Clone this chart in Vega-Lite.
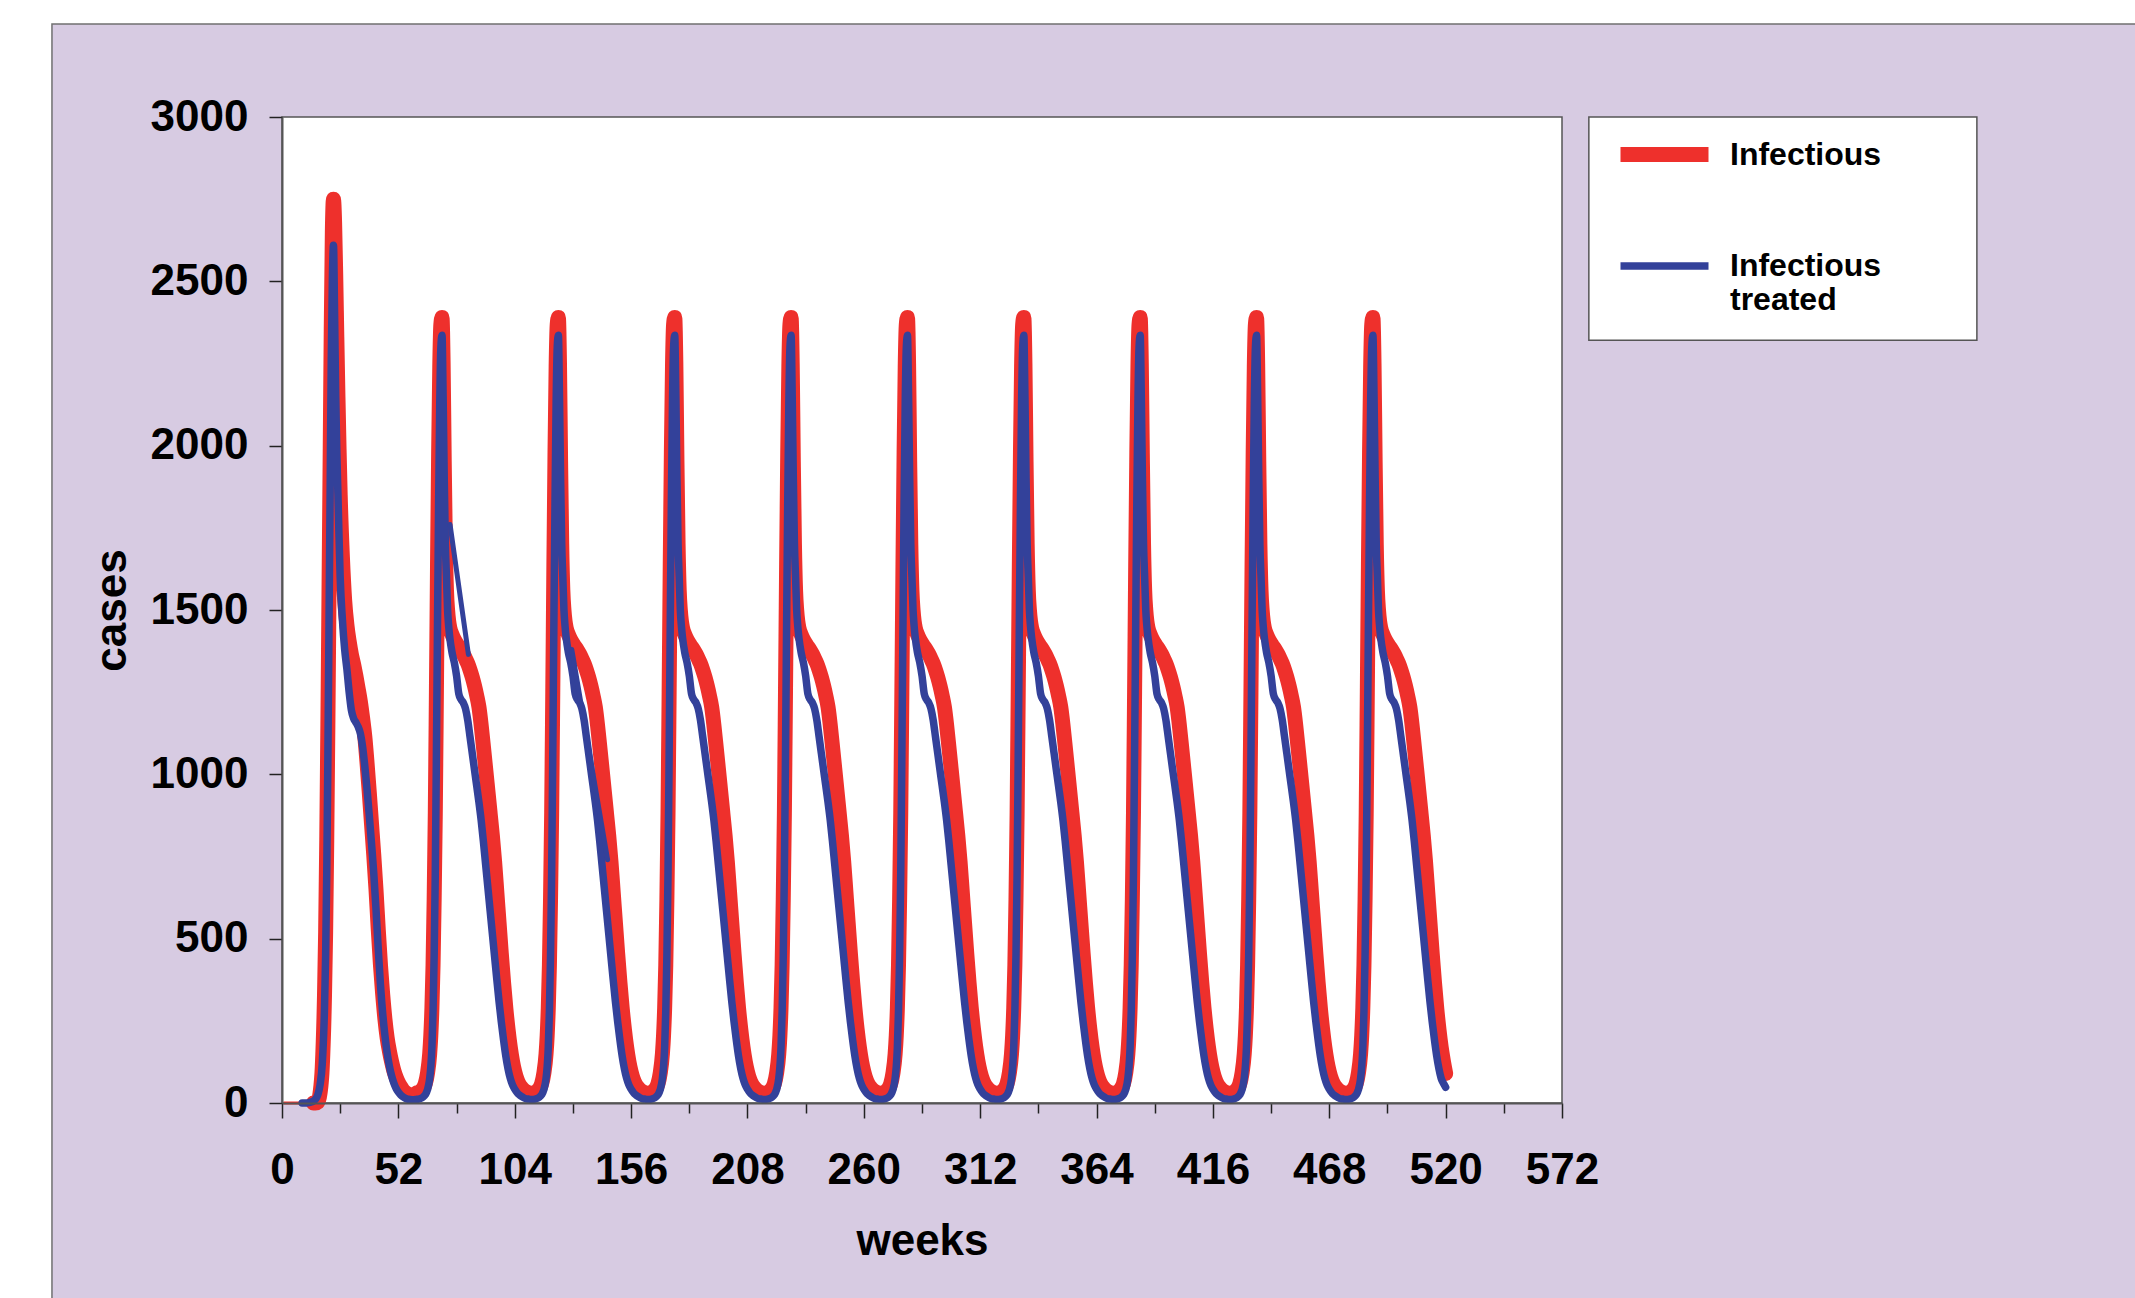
{
"$schema": "https://vega.github.io/schema/vega-lite/v6.json",
"width": 1280, "height": 986,
"autosize": {"type": "none"},
"padding": {"left": 282, "top": 117, "right": 573, "bottom": 195},
"background": "white",
"config": {
  "view": {"stroke": null, "fill": null},
  "font": "Liberation Sans",
  "axis": {"labelFont": "Liberation Sans", "labelFontSize": 44, "labelFontWeight": "bold", "labelColor": "black",
    "titleFont": "Liberation Sans", "titleFontSize": 44, "titleFontWeight": "bold", "titleColor": "black",
    "domainColor": "#555555", "domainWidth": 2, "tickColor": "#222222", "tickWidth": 1.5, "grid": false,
    "labelFlush": false, "labelOverlap": false},
  "legend": {"labelFont": "Liberation Sans", "labelFontSize": 32, "labelFontWeight": "bold", "labelColor": "black", "labelLimit": 600}
},
"resolve": {"axis": {"x": "independent", "y": "independent"}},
"layer": [
  {
    "data": {"values": [{}]},
    "mark": {"type": "rect", "fill": "#D7CBE2", "stroke": "#707070", "strokeWidth": 1.5},
    "encoding": {
      "x": {"datum": -102.8, "type": "quantitative", "scale": {"domain": [0, 572], "nice": false}, "axis": null},
      "x2": {"datum": 900},
      "y": {"datum": 3282.6, "type": "quantitative", "scale": {"domain": [0, 3000], "nice": false}, "axis": null},
      "y2": {"datum": -1000}
    }
  },
  {
    "data": {"values": [{}]},
    "mark": {"type": "rect", "fill": "white", "stroke": "#555555", "strokeWidth": 1.5},
    "encoding": {
      "x": {"datum": 584, "type": "quantitative", "scale": {"domain": [0, 572], "nice": false}, "axis": null},
      "x2": {"datum": 757.4},
      "y": {"datum": 3000, "type": "quantitative", "scale": {"domain": [0, 3000], "nice": false}, "axis": null},
      "y2": {"datum": 2321}
    }
  },
  {
    "data": {"values": [{}]},
    "mark": {"type": "rect", "fill": "white", "stroke": "#555555", "strokeWidth": 1.5},
    "encoding": {
      "x": {"datum": 0, "type": "quantitative", "scale": {"domain": [0, 572], "nice": false}, "axis": null},
      "x2": {"datum": 572},
      "y": {"datum": 0, "type": "quantitative", "scale": {"domain": [0, 3000], "nice": false}, "axis": null},
      "y2": {"datum": 3000}
    }
  },
  {
    "data": {"values": [{"week": 0.7, "cases": 0}, {"week": 8.9, "cases": 0}]},
    "mark": {"type": "line", "color": "#EE302C", "strokeWidth": 3, "clip": false},
    "encoding": {
      "x": {"field": "week", "type": "quantitative", "scale": {"domain": [0, 572], "nice": false}, "axis": null},
      "y": {"field": "cases", "type": "quantitative", "scale": {"domain": [0, 3000], "nice": false}, "axis": null}
    }
  },
  {
    "data": {"values": [
{"week":14,"infectious":0,"treated":6},{"week":15,"infectious":0,"treated":12},{"week":16,"infectious":3,"treated":25},{"week":17,"infectious":30,"treated":55},{"week":18,"infectious":110,"treated":120},
{"week":19,"infectious":330,"treated":290},{"week":19.5,"infectious":520,"treated":450},{"week":20,"infectious":800,"treated":700},{"week":20.5,"infectious":1150,"treated":1050},{"week":21,"infectious":1550,"treated":1450},
{"week":21.5,"infectious":1950,"treated":1850},{"week":22,"infectious":2350,"treated":2250},{"week":22.5,"infectious":2650,"treated":2500},{"week":23,"infectious":2750,"treated":2610},{"week":23.5,"infectious":2680,"treated":2400},
{"week":24,"infectious":2520,"treated":2150},{"week":24.5,"infectious":2330,"treated":1980},{"week":25,"infectious":2150,"treated":1850},{"week":25.5,"infectious":1990,"treated":1720},{"week":26,"infectious":1850,"treated":1600},
{"week":27,"infectious":1660,"treated":1470},{"week":28,"infectious":1530,"treated":1380},{"week":29,"infectious":1455,"treated":1320},{"week":30,"infectious":1405,"treated":1250},{"week":31,"infectious":1365,"treated":1195},
{"week":32,"infectious":1335,"treated":1170},{"week":33,"infectious":1300,"treated":1158},{"week":34,"infectious":1262,"treated":1145},{"week":35,"infectious":1222,"treated":1125},{"week":36,"infectious":1172,"treated":1085},
{"week":37,"infectious":1115,"treated":1025},{"week":38,"infectious":1035,"treated":955},{"week":39,"infectious":945,"treated":875},{"week":40,"infectious":850,"treated":790},{"week":41,"infectious":755,"treated":700},
{"week":42,"infectious":650,"treated":590},{"week":43,"infectious":530,"treated":470},{"week":44,"infectious":420,"treated":360},{"week":45,"infectious":330,"treated":272},{"week":46,"infectious":255,"treated":205},
{"week":47,"infectious":198,"treated":152},{"week":48,"infectious":158,"treated":112},{"week":49,"infectious":125,"treated":82},{"week":50,"infectious":98,"treated":60},{"week":51,"infectious":78,"treated":44},
{"week":52,"infectious":62,"treated":33},{"week":53,"infectious":50,"treated":25},{"week":54,"infectious":40,"treated":19},{"week":55,"infectious":33,"treated":15},{"week":56,"infectious":28,"treated":12},
{"week":57,"infectious":25,"treated":11},{"week":58,"infectious":23,"treated":10},{"week":59,"infectious":22,"treated":10},

{"week":60,"infectious":30,"treated":11},{"week":61,"infectious":32,"treated":12},{"week":62,"infectious":36,"treated":14},{"week":63,"infectious":44,"treated":18},{"week":64,"infectious":58,"treated":25},{"week":65,"infectious":90,"treated":40},{"week":66,"infectious":150,"treated":75},
{"week":66.5,"infectious":205,"treated":110},{"week":67,"infectious":290,"treated":170},{"week":67.5,"infectious":420,"treated":280},{"week":68,"infectious":620,"treated":450},{"week":68.5,"infectious":880,"treated":700},{"week":69,"infectious":1250,"treated":1060},{"week":69.5,"infectious":1640,"treated":1460},{"week":70,"infectious":1980,"treated":1830},{"week":70.5,"infectious":2240,"treated":2130},
{"week":71,"infectious":2370,"treated":2300},{"week":71.5,"infectious":2390,"treated":2336},{"week":72,"infectious":2250,"treated":2150},{"week":72.5,"infectious":1950,"treated":1900},{"week":73,"infectious":1700,"treated":1700},{"week":73.5,"infectious":1560,"treated":1600},{"week":74,"infectious":1500,"treated":1500},{"week":74.5,"infectious":1465,"treated":1450},{"week":75,"infectious":1445,"treated":1415},
{"week":76,"infectious":1425,"treated":1370},{"week":77,"infectious":1410,"treated":1340},{"week":78,"infectious":1398,"treated":1300},{"week":79,"infectious":1388,"treated":1245},{"week":80,"infectious":1378,"treated":1228},{"week":81,"infectious":1366,"treated":1218},{"week":82,"infectious":1352,"treated":1200},{"week":83,"infectious":1337,"treated":1165},{"week":84,"infectious":1318,"treated":1115},
{"week":85,"infectious":1296,"treated":1065},{"week":86,"infectious":1270,"treated":1015},{"week":87,"infectious":1240,"treated":965},{"week":88,"infectious":1205,"treated":915},{"week":89,"infectious":1150,"treated":860},{"week":90,"infectious":1085,"treated":795},{"week":91,"infectious":1018,"treated":725},{"week":92,"infectious":950,"treated":655},{"week":93,"infectious":882,"treated":585},
{"week":94,"infectious":814,"treated":515},{"week":95,"infectious":735,"treated":445},{"week":96,"infectious":642,"treated":375},{"week":97,"infectious":548,"treated":308},{"week":98,"infectious":455,"treated":247},{"week":99,"infectious":368,"treated":192},{"week":100,"infectious":290,"treated":143},{"week":101,"infectious":225,"treated":104},{"week":102,"infectious":170,"treated":75},
{"week":103,"infectious":127,"treated":55},{"week":104,"infectious":95,"treated":42},{"week":105,"infectious":72,"treated":32},{"week":106,"infectious":57,"treated":25},{"week":107,"infectious":47,"treated":20},{"week":108,"infectious":40,"treated":16},{"week":109,"infectious":35,"treated":13},{"week":110,"infectious":32,"treated":12},{"week":111,"infectious":30,"treated":11},

{"week":112,"infectious":30,"treated":11},{"week":113,"infectious":32,"treated":12},{"week":114,"infectious":36,"treated":14},{"week":115,"infectious":44,"treated":18},{"week":116,"infectious":58,"treated":25},{"week":117,"infectious":90,"treated":40},{"week":118,"infectious":150,"treated":75},
{"week":118.5,"infectious":205,"treated":110},{"week":119,"infectious":290,"treated":170},{"week":119.5,"infectious":420,"treated":280},{"week":120,"infectious":620,"treated":450},{"week":120.5,"infectious":880,"treated":700},{"week":121,"infectious":1250,"treated":1060},{"week":121.5,"infectious":1640,"treated":1460},{"week":122,"infectious":1980,"treated":1830},{"week":122.5,"infectious":2240,"treated":2130},
{"week":123,"infectious":2370,"treated":2300},{"week":123.5,"infectious":2390,"treated":2336},{"week":124,"infectious":2250,"treated":2150},{"week":124.5,"infectious":1950,"treated":1900},{"week":125,"infectious":1700,"treated":1700},{"week":125.5,"infectious":1560,"treated":1600},{"week":126,"infectious":1500,"treated":1500},{"week":126.5,"infectious":1465,"treated":1450},{"week":127,"infectious":1445,"treated":1415},
{"week":128,"infectious":1425,"treated":1370},{"week":129,"infectious":1410,"treated":1340},{"week":130,"infectious":1398,"treated":1300},{"week":131,"infectious":1388,"treated":1245},{"week":132,"infectious":1378,"treated":1228},{"week":133,"infectious":1366,"treated":1218},{"week":134,"infectious":1352,"treated":1200},{"week":135,"infectious":1337,"treated":1165},{"week":136,"infectious":1318,"treated":1115},
{"week":137,"infectious":1296,"treated":1065},{"week":138,"infectious":1270,"treated":1015},{"week":139,"infectious":1240,"treated":965},{"week":140,"infectious":1205,"treated":915},{"week":141,"infectious":1150,"treated":860},{"week":142,"infectious":1085,"treated":795},{"week":143,"infectious":1018,"treated":725},{"week":144,"infectious":950,"treated":655},{"week":145,"infectious":882,"treated":585},
{"week":146,"infectious":814,"treated":515},{"week":147,"infectious":735,"treated":445},{"week":148,"infectious":642,"treated":375},{"week":149,"infectious":548,"treated":308},{"week":150,"infectious":455,"treated":247},{"week":151,"infectious":368,"treated":192},{"week":152,"infectious":290,"treated":143},{"week":153,"infectious":225,"treated":104},{"week":154,"infectious":170,"treated":75},
{"week":155,"infectious":127,"treated":55},{"week":156,"infectious":95,"treated":42},{"week":157,"infectious":72,"treated":32},{"week":158,"infectious":57,"treated":25},{"week":159,"infectious":47,"treated":20},{"week":160,"infectious":40,"treated":16},{"week":161,"infectious":35,"treated":13},{"week":162,"infectious":32,"treated":12},{"week":163,"infectious":30,"treated":11},

{"week":164,"infectious":30,"treated":11},{"week":165,"infectious":32,"treated":12},{"week":166,"infectious":36,"treated":14},{"week":167,"infectious":44,"treated":18},{"week":168,"infectious":58,"treated":25},{"week":169,"infectious":90,"treated":40},{"week":170,"infectious":150,"treated":75},
{"week":170.5,"infectious":205,"treated":110},{"week":171,"infectious":290,"treated":170},{"week":171.5,"infectious":420,"treated":280},{"week":172,"infectious":620,"treated":450},{"week":172.5,"infectious":880,"treated":700},{"week":173,"infectious":1250,"treated":1060},{"week":173.5,"infectious":1640,"treated":1460},{"week":174,"infectious":1980,"treated":1830},{"week":174.5,"infectious":2240,"treated":2130},
{"week":175,"infectious":2370,"treated":2300},{"week":175.5,"infectious":2390,"treated":2336},{"week":176,"infectious":2250,"treated":2150},{"week":176.5,"infectious":1950,"treated":1900},{"week":177,"infectious":1700,"treated":1700},{"week":177.5,"infectious":1560,"treated":1600},{"week":178,"infectious":1500,"treated":1500},{"week":178.5,"infectious":1465,"treated":1450},{"week":179,"infectious":1445,"treated":1415},
{"week":180,"infectious":1425,"treated":1370},{"week":181,"infectious":1410,"treated":1340},{"week":182,"infectious":1398,"treated":1300},{"week":183,"infectious":1388,"treated":1245},{"week":184,"infectious":1378,"treated":1228},{"week":185,"infectious":1366,"treated":1218},{"week":186,"infectious":1352,"treated":1200},{"week":187,"infectious":1337,"treated":1165},{"week":188,"infectious":1318,"treated":1115},
{"week":189,"infectious":1296,"treated":1065},{"week":190,"infectious":1270,"treated":1015},{"week":191,"infectious":1240,"treated":965},{"week":192,"infectious":1205,"treated":915},{"week":193,"infectious":1150,"treated":860},{"week":194,"infectious":1085,"treated":795},{"week":195,"infectious":1018,"treated":725},{"week":196,"infectious":950,"treated":655},{"week":197,"infectious":882,"treated":585},
{"week":198,"infectious":814,"treated":515},{"week":199,"infectious":735,"treated":445},{"week":200,"infectious":642,"treated":375},{"week":201,"infectious":548,"treated":308},{"week":202,"infectious":455,"treated":247},{"week":203,"infectious":368,"treated":192},{"week":204,"infectious":290,"treated":143},{"week":205,"infectious":225,"treated":104},{"week":206,"infectious":170,"treated":75},
{"week":207,"infectious":127,"treated":55},{"week":208,"infectious":95,"treated":42},{"week":209,"infectious":72,"treated":32},{"week":210,"infectious":57,"treated":25},{"week":211,"infectious":47,"treated":20},{"week":212,"infectious":40,"treated":16},{"week":213,"infectious":35,"treated":13},{"week":214,"infectious":32,"treated":12},{"week":215,"infectious":30,"treated":11},

{"week":216,"infectious":30,"treated":11},{"week":217,"infectious":32,"treated":12},{"week":218,"infectious":36,"treated":14},{"week":219,"infectious":44,"treated":18},{"week":220,"infectious":58,"treated":25},{"week":221,"infectious":90,"treated":40},{"week":222,"infectious":150,"treated":75},
{"week":222.5,"infectious":205,"treated":110},{"week":223,"infectious":290,"treated":170},{"week":223.5,"infectious":420,"treated":280},{"week":224,"infectious":620,"treated":450},{"week":224.5,"infectious":880,"treated":700},{"week":225,"infectious":1250,"treated":1060},{"week":225.5,"infectious":1640,"treated":1460},{"week":226,"infectious":1980,"treated":1830},{"week":226.5,"infectious":2240,"treated":2130},
{"week":227,"infectious":2370,"treated":2300},{"week":227.5,"infectious":2390,"treated":2336},{"week":228,"infectious":2250,"treated":2150},{"week":228.5,"infectious":1950,"treated":1900},{"week":229,"infectious":1700,"treated":1700},{"week":229.5,"infectious":1560,"treated":1600},{"week":230,"infectious":1500,"treated":1500},{"week":230.5,"infectious":1465,"treated":1450},{"week":231,"infectious":1445,"treated":1415},
{"week":232,"infectious":1425,"treated":1370},{"week":233,"infectious":1410,"treated":1340},{"week":234,"infectious":1398,"treated":1300},{"week":235,"infectious":1388,"treated":1245},{"week":236,"infectious":1378,"treated":1228},{"week":237,"infectious":1366,"treated":1218},{"week":238,"infectious":1352,"treated":1200},{"week":239,"infectious":1337,"treated":1165},{"week":240,"infectious":1318,"treated":1115},
{"week":241,"infectious":1296,"treated":1065},{"week":242,"infectious":1270,"treated":1015},{"week":243,"infectious":1240,"treated":965},{"week":244,"infectious":1205,"treated":915},{"week":245,"infectious":1150,"treated":860},{"week":246,"infectious":1085,"treated":795},{"week":247,"infectious":1018,"treated":725},{"week":248,"infectious":950,"treated":655},{"week":249,"infectious":882,"treated":585},
{"week":250,"infectious":814,"treated":515},{"week":251,"infectious":735,"treated":445},{"week":252,"infectious":642,"treated":375},{"week":253,"infectious":548,"treated":308},{"week":254,"infectious":455,"treated":247},{"week":255,"infectious":368,"treated":192},{"week":256,"infectious":290,"treated":143},{"week":257,"infectious":225,"treated":104},{"week":258,"infectious":170,"treated":75},
{"week":259,"infectious":127,"treated":55},{"week":260,"infectious":95,"treated":42},{"week":261,"infectious":72,"treated":32},{"week":262,"infectious":57,"treated":25},{"week":263,"infectious":47,"treated":20},{"week":264,"infectious":40,"treated":16},{"week":265,"infectious":35,"treated":13},{"week":266,"infectious":32,"treated":12},{"week":267,"infectious":30,"treated":11},

{"week":268,"infectious":30,"treated":11},{"week":269,"infectious":32,"treated":12},{"week":270,"infectious":36,"treated":14},{"week":271,"infectious":44,"treated":18},{"week":272,"infectious":58,"treated":25},{"week":273,"infectious":90,"treated":40},{"week":274,"infectious":150,"treated":75},
{"week":274.5,"infectious":205,"treated":110},{"week":275,"infectious":290,"treated":170},{"week":275.5,"infectious":420,"treated":280},{"week":276,"infectious":620,"treated":450},{"week":276.5,"infectious":880,"treated":700},{"week":277,"infectious":1250,"treated":1060},{"week":277.5,"infectious":1640,"treated":1460},{"week":278,"infectious":1980,"treated":1830},{"week":278.5,"infectious":2240,"treated":2130},
{"week":279,"infectious":2370,"treated":2300},{"week":279.5,"infectious":2390,"treated":2336},{"week":280,"infectious":2250,"treated":2150},{"week":280.5,"infectious":1950,"treated":1900},{"week":281,"infectious":1700,"treated":1700},{"week":281.5,"infectious":1560,"treated":1600},{"week":282,"infectious":1500,"treated":1500},{"week":282.5,"infectious":1465,"treated":1450},{"week":283,"infectious":1445,"treated":1415},
{"week":284,"infectious":1425,"treated":1370},{"week":285,"infectious":1410,"treated":1340},{"week":286,"infectious":1398,"treated":1300},{"week":287,"infectious":1388,"treated":1245},{"week":288,"infectious":1378,"treated":1228},{"week":289,"infectious":1366,"treated":1218},{"week":290,"infectious":1352,"treated":1200},{"week":291,"infectious":1337,"treated":1165},{"week":292,"infectious":1318,"treated":1115},
{"week":293,"infectious":1296,"treated":1065},{"week":294,"infectious":1270,"treated":1015},{"week":295,"infectious":1240,"treated":965},{"week":296,"infectious":1205,"treated":915},{"week":297,"infectious":1150,"treated":860},{"week":298,"infectious":1085,"treated":795},{"week":299,"infectious":1018,"treated":725},{"week":300,"infectious":950,"treated":655},{"week":301,"infectious":882,"treated":585},
{"week":302,"infectious":814,"treated":515},{"week":303,"infectious":735,"treated":445},{"week":304,"infectious":642,"treated":375},{"week":305,"infectious":548,"treated":308},{"week":306,"infectious":455,"treated":247},{"week":307,"infectious":368,"treated":192},{"week":308,"infectious":290,"treated":143},{"week":309,"infectious":225,"treated":104},{"week":310,"infectious":170,"treated":75},
{"week":311,"infectious":127,"treated":55},{"week":312,"infectious":95,"treated":42},{"week":313,"infectious":72,"treated":32},{"week":314,"infectious":57,"treated":25},{"week":315,"infectious":47,"treated":20},{"week":316,"infectious":40,"treated":16},{"week":317,"infectious":35,"treated":13},{"week":318,"infectious":32,"treated":12},{"week":319,"infectious":30,"treated":11},

{"week":320,"infectious":30,"treated":11},{"week":321,"infectious":32,"treated":12},{"week":322,"infectious":36,"treated":14},{"week":323,"infectious":44,"treated":18},{"week":324,"infectious":58,"treated":25},{"week":325,"infectious":90,"treated":40},{"week":326,"infectious":150,"treated":75},
{"week":326.5,"infectious":205,"treated":110},{"week":327,"infectious":290,"treated":170},{"week":327.5,"infectious":420,"treated":280},{"week":328,"infectious":620,"treated":450},{"week":328.5,"infectious":880,"treated":700},{"week":329,"infectious":1250,"treated":1060},{"week":329.5,"infectious":1640,"treated":1460},{"week":330,"infectious":1980,"treated":1830},{"week":330.5,"infectious":2240,"treated":2130},
{"week":331,"infectious":2370,"treated":2300},{"week":331.5,"infectious":2390,"treated":2336},{"week":332,"infectious":2250,"treated":2150},{"week":332.5,"infectious":1950,"treated":1900},{"week":333,"infectious":1700,"treated":1700},{"week":333.5,"infectious":1560,"treated":1600},{"week":334,"infectious":1500,"treated":1500},{"week":334.5,"infectious":1465,"treated":1450},{"week":335,"infectious":1445,"treated":1415},
{"week":336,"infectious":1425,"treated":1370},{"week":337,"infectious":1410,"treated":1340},{"week":338,"infectious":1398,"treated":1300},{"week":339,"infectious":1388,"treated":1245},{"week":340,"infectious":1378,"treated":1228},{"week":341,"infectious":1366,"treated":1218},{"week":342,"infectious":1352,"treated":1200},{"week":343,"infectious":1337,"treated":1165},{"week":344,"infectious":1318,"treated":1115},
{"week":345,"infectious":1296,"treated":1065},{"week":346,"infectious":1270,"treated":1015},{"week":347,"infectious":1240,"treated":965},{"week":348,"infectious":1205,"treated":915},{"week":349,"infectious":1150,"treated":860},{"week":350,"infectious":1085,"treated":795},{"week":351,"infectious":1018,"treated":725},{"week":352,"infectious":950,"treated":655},{"week":353,"infectious":882,"treated":585},
{"week":354,"infectious":814,"treated":515},{"week":355,"infectious":735,"treated":445},{"week":356,"infectious":642,"treated":375},{"week":357,"infectious":548,"treated":308},{"week":358,"infectious":455,"treated":247},{"week":359,"infectious":368,"treated":192},{"week":360,"infectious":290,"treated":143},{"week":361,"infectious":225,"treated":104},{"week":362,"infectious":170,"treated":75},
{"week":363,"infectious":127,"treated":55},{"week":364,"infectious":95,"treated":42},{"week":365,"infectious":72,"treated":32},{"week":366,"infectious":57,"treated":25},{"week":367,"infectious":47,"treated":20},{"week":368,"infectious":40,"treated":16},{"week":369,"infectious":35,"treated":13},{"week":370,"infectious":32,"treated":12},{"week":371,"infectious":30,"treated":11},

{"week":372,"infectious":30,"treated":11},{"week":373,"infectious":32,"treated":12},{"week":374,"infectious":36,"treated":14},{"week":375,"infectious":44,"treated":18},{"week":376,"infectious":58,"treated":25},{"week":377,"infectious":90,"treated":40},{"week":378,"infectious":150,"treated":75},
{"week":378.5,"infectious":205,"treated":110},{"week":379,"infectious":290,"treated":170},{"week":379.5,"infectious":420,"treated":280},{"week":380,"infectious":620,"treated":450},{"week":380.5,"infectious":880,"treated":700},{"week":381,"infectious":1250,"treated":1060},{"week":381.5,"infectious":1640,"treated":1460},{"week":382,"infectious":1980,"treated":1830},{"week":382.5,"infectious":2240,"treated":2130},
{"week":383,"infectious":2370,"treated":2300},{"week":383.5,"infectious":2390,"treated":2336},{"week":384,"infectious":2250,"treated":2150},{"week":384.5,"infectious":1950,"treated":1900},{"week":385,"infectious":1700,"treated":1700},{"week":385.5,"infectious":1560,"treated":1600},{"week":386,"infectious":1500,"treated":1500},{"week":386.5,"infectious":1465,"treated":1450},{"week":387,"infectious":1445,"treated":1415},
{"week":388,"infectious":1425,"treated":1370},{"week":389,"infectious":1410,"treated":1340},{"week":390,"infectious":1398,"treated":1300},{"week":391,"infectious":1388,"treated":1245},{"week":392,"infectious":1378,"treated":1228},{"week":393,"infectious":1366,"treated":1218},{"week":394,"infectious":1352,"treated":1200},{"week":395,"infectious":1337,"treated":1165},{"week":396,"infectious":1318,"treated":1115},
{"week":397,"infectious":1296,"treated":1065},{"week":398,"infectious":1270,"treated":1015},{"week":399,"infectious":1240,"treated":965},{"week":400,"infectious":1205,"treated":915},{"week":401,"infectious":1150,"treated":860},{"week":402,"infectious":1085,"treated":795},{"week":403,"infectious":1018,"treated":725},{"week":404,"infectious":950,"treated":655},{"week":405,"infectious":882,"treated":585},
{"week":406,"infectious":814,"treated":515},{"week":407,"infectious":735,"treated":445},{"week":408,"infectious":642,"treated":375},{"week":409,"infectious":548,"treated":308},{"week":410,"infectious":455,"treated":247},{"week":411,"infectious":368,"treated":192},{"week":412,"infectious":290,"treated":143},{"week":413,"infectious":225,"treated":104},{"week":414,"infectious":170,"treated":75},
{"week":415,"infectious":127,"treated":55},{"week":416,"infectious":95,"treated":42},{"week":417,"infectious":72,"treated":32},{"week":418,"infectious":57,"treated":25},{"week":419,"infectious":47,"treated":20},{"week":420,"infectious":40,"treated":16},{"week":421,"infectious":35,"treated":13},{"week":422,"infectious":32,"treated":12},{"week":423,"infectious":30,"treated":11},

{"week":424,"infectious":30,"treated":11},{"week":425,"infectious":32,"treated":12},{"week":426,"infectious":36,"treated":14},{"week":427,"infectious":44,"treated":18},{"week":428,"infectious":58,"treated":25},{"week":429,"infectious":90,"treated":40},{"week":430,"infectious":150,"treated":75},
{"week":430.5,"infectious":205,"treated":110},{"week":431,"infectious":290,"treated":170},{"week":431.5,"infectious":420,"treated":280},{"week":432,"infectious":620,"treated":450},{"week":432.5,"infectious":880,"treated":700},{"week":433,"infectious":1250,"treated":1060},{"week":433.5,"infectious":1640,"treated":1460},{"week":434,"infectious":1980,"treated":1830},{"week":434.5,"infectious":2240,"treated":2130},
{"week":435,"infectious":2370,"treated":2300},{"week":435.5,"infectious":2390,"treated":2336},{"week":436,"infectious":2250,"treated":2150},{"week":436.5,"infectious":1950,"treated":1900},{"week":437,"infectious":1700,"treated":1700},{"week":437.5,"infectious":1560,"treated":1600},{"week":438,"infectious":1500,"treated":1500},{"week":438.5,"infectious":1465,"treated":1450},{"week":439,"infectious":1445,"treated":1415},
{"week":440,"infectious":1425,"treated":1370},{"week":441,"infectious":1410,"treated":1340},{"week":442,"infectious":1398,"treated":1300},{"week":443,"infectious":1388,"treated":1245},{"week":444,"infectious":1378,"treated":1228},{"week":445,"infectious":1366,"treated":1218},{"week":446,"infectious":1352,"treated":1200},{"week":447,"infectious":1337,"treated":1165},{"week":448,"infectious":1318,"treated":1115},
{"week":449,"infectious":1296,"treated":1065},{"week":450,"infectious":1270,"treated":1015},{"week":451,"infectious":1240,"treated":965},{"week":452,"infectious":1205,"treated":915},{"week":453,"infectious":1150,"treated":860},{"week":454,"infectious":1085,"treated":795},{"week":455,"infectious":1018,"treated":725},{"week":456,"infectious":950,"treated":655},{"week":457,"infectious":882,"treated":585},
{"week":458,"infectious":814,"treated":515},{"week":459,"infectious":735,"treated":445},{"week":460,"infectious":642,"treated":375},{"week":461,"infectious":548,"treated":308},{"week":462,"infectious":455,"treated":247},{"week":463,"infectious":368,"treated":192},{"week":464,"infectious":290,"treated":143},{"week":465,"infectious":225,"treated":104},{"week":466,"infectious":170,"treated":75},
{"week":467,"infectious":127,"treated":55},{"week":468,"infectious":95,"treated":42},{"week":469,"infectious":72,"treated":32},{"week":470,"infectious":57,"treated":25},{"week":471,"infectious":47,"treated":20},{"week":472,"infectious":40,"treated":16},{"week":473,"infectious":35,"treated":13},{"week":474,"infectious":32,"treated":12},{"week":475,"infectious":30,"treated":11},

{"week":476,"infectious":30,"treated":11},{"week":477,"infectious":32,"treated":12},{"week":478,"infectious":36,"treated":14},{"week":479,"infectious":44,"treated":18},{"week":480,"infectious":58,"treated":25},{"week":481,"infectious":90,"treated":40},{"week":482,"infectious":150,"treated":75},
{"week":482.5,"infectious":205,"treated":110},{"week":483,"infectious":290,"treated":170},{"week":483.5,"infectious":420,"treated":280},{"week":484,"infectious":620,"treated":450},{"week":484.5,"infectious":880,"treated":700},{"week":485,"infectious":1250,"treated":1060},{"week":485.5,"infectious":1640,"treated":1460},{"week":486,"infectious":1980,"treated":1830},{"week":486.5,"infectious":2240,"treated":2130},
{"week":487,"infectious":2370,"treated":2300},{"week":487.5,"infectious":2390,"treated":2336},{"week":488,"infectious":2250,"treated":2150},{"week":488.5,"infectious":1950,"treated":1900},{"week":489,"infectious":1700,"treated":1700},{"week":489.5,"infectious":1560,"treated":1600},{"week":490,"infectious":1500,"treated":1500},{"week":490.5,"infectious":1465,"treated":1450},{"week":491,"infectious":1445,"treated":1415},
{"week":492,"infectious":1425,"treated":1370},{"week":493,"infectious":1410,"treated":1340},{"week":494,"infectious":1398,"treated":1300},{"week":495,"infectious":1388,"treated":1245},{"week":496,"infectious":1378,"treated":1228},{"week":497,"infectious":1366,"treated":1218},{"week":498,"infectious":1352,"treated":1200},{"week":499,"infectious":1337,"treated":1165},{"week":500,"infectious":1318,"treated":1115},
{"week":501,"infectious":1296,"treated":1065},{"week":502,"infectious":1270,"treated":1015},{"week":503,"infectious":1240,"treated":965},{"week":504,"infectious":1205,"treated":915},{"week":505,"infectious":1150,"treated":860},{"week":506,"infectious":1085,"treated":795},{"week":507,"infectious":1018,"treated":725},{"week":508,"infectious":950,"treated":655},{"week":509,"infectious":882,"treated":585},
{"week":510,"infectious":814,"treated":515},{"week":511,"infectious":735,"treated":445},{"week":512,"infectious":642,"treated":375},{"week":513,"infectious":548,"treated":308},{"week":514,"infectious":455,"treated":247},{"week":515,"infectious":368,"treated":192},{"week":516,"infectious":290,"treated":143},{"week":517,"infectious":225,"treated":104},{"week":518,"infectious":170,"treated":75},
{"week":519,"infectious":127,"treated":60},{"week":520,"infectious":90,"treated":48},
{"week":9,"infectious":null,"treated":0},{"week":10,"infectious":null,"treated":0},{"week":11,"infectious":null,"treated":0},{"week":12,"infectious":null,"treated":1},{"week":13,"infectious":null,"treated":3}
    ]},
    "transform": [
      {"fold": ["infectious", "treated"], "as": ["series", "cases"]},
      {"filter": "isValid(datum.cases)"}
    ],
    "mark": {"type": "line", "interpolate": "monotone", "strokeCap": "round", "strokeJoin": "round", "clip": false},
    "encoding": {
      "x": {"field": "week", "type": "quantitative", "scale": {"domain": [0, 572], "nice": false},
        "axis": {"values": [0,26,52,78,104,130,156,182,208,234,260,286,312,338,364,390,416,442,468,494,520,546,572],
          "labelExpr": "datum.value % 52 === 0 ? datum.label : ''",
          "tickSize": {"condition": {"test": "datum.value % 52 !== 0", "value": 10}, "value": 15},
          "labelPadding": 30, "title": "weeks", "titlePadding": 27, "zindex": 2}},
      "y": {"field": "cases", "type": "quantitative", "scale": {"domain": [0, 3000], "nice": false},
        "axis": {"values": [0,500,1000,1500,2000,2500,3000], "format": "d", "tickSize": 13, "labelPadding": 21, "title": "cases", "titlePadding": 16, "zindex": 2}},
      "color": {"field": "series", "type": "nominal",
        "scale": {"domain": ["infectious", "treated"], "range": ["#EE302C", "#33419A"]},
        "legend": {"orient": "none", "legendX": 1331, "legendY": -14, "title": null, "padding": 0,
          "symbolType": "stroke", "symbolSize": 7744, "labelOffset": 14, "rowPadding": 33, "direction": "vertical",
          "labelExpr": "datum.value == 'infectious' ? 'Infectious' : ['Infectious', 'treated']"}},
      "strokeWidth": {"field": "series", "type": "nominal",
        "scale": {"domain": ["infectious", "treated"], "range": [15, 7.5]},
        "legend": {"orient": "none", "legendX": 1331, "legendY": -14, "title": null, "padding": 0,
          "symbolType": "stroke", "symbolSize": 7744, "labelOffset": 14, "rowPadding": 33, "direction": "vertical",
          "labelExpr": "datum.value == 'infectious' ? 'Infectious' : ['Infectious', 'treated']"}}
    }
  },
  {
    "data": {"values": [
      {"week": 75.1, "cases": 1760, "segment": 1}, {"week": 83.3, "cases": 1365, "segment": 1},
      {"week": 129.5, "cases": 1380, "segment": 2}, {"week": 145.5, "cases": 740, "segment": 2}
    ]},
    "mark": {"type": "line", "color": "#33419A", "strokeWidth": 5, "strokeCap": "round", "clip": false},
    "encoding": {
      "x": {"field": "week", "type": "quantitative", "scale": {"domain": [0, 572], "nice": false}, "axis": null},
      "y": {"field": "cases", "type": "quantitative", "scale": {"domain": [0, 3000], "nice": false}, "axis": null},
      "detail": {"field": "segment", "type": "nominal"}
    }
  }
]
}
